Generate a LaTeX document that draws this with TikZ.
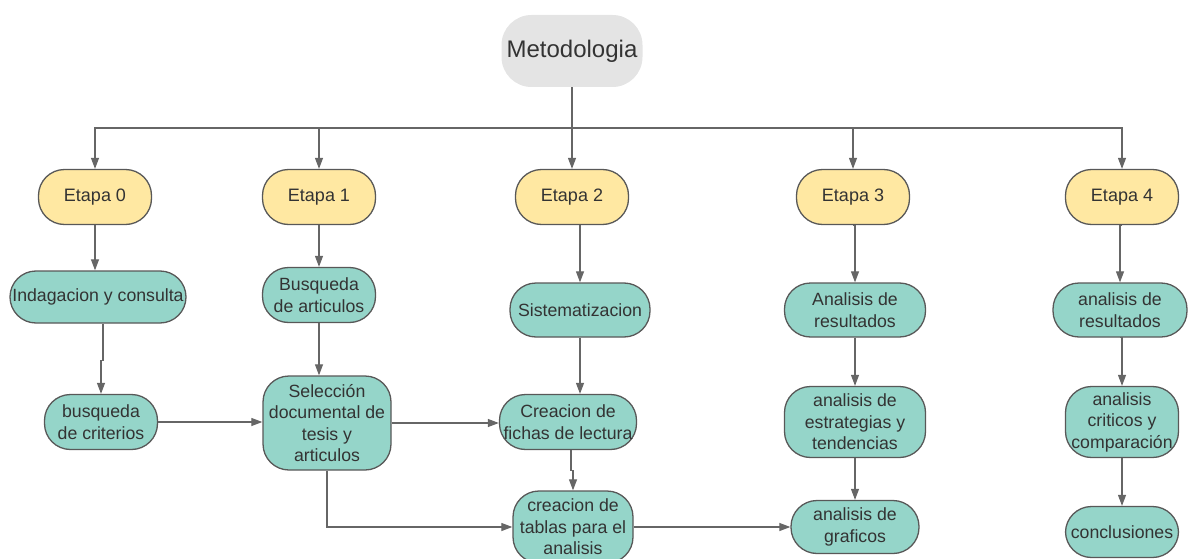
\documentclass[tikz,border=0pt]{standalone}
\usepackage{fontspec}
\setmainfont{Liberation Sans}
\usetikzlibrary{arrows.meta}

\definecolor{stagefill}{HTML}{FFE8A2}
\definecolor{taskfill}{HTML}{95D5C9}
\definecolor{rootfill}{HTML}{E4E4E4}
\definecolor{edgegray}{HTML}{585858}
\definecolor{linkgray}{HTML}{666666}
\definecolor{textgray}{HTML}{333333}

\begin{document}
\begin{tikzpicture}[x=1pt, y=-1pt,
    box/.style={rectangle, rounded corners=26pt, align=center, inner sep=1pt,
        text=textgray, font=\fontsize{17.7}{21.5}\selectfont},
    root/.style={box, fill=rootfill, rounded corners=30pt,
        minimum width=141pt, minimum height=72pt,
        font=\fontsize{24}{28}\selectfont},
    stage/.style={box, fill=stagefill, draw=edgegray, line width=1.3pt,
        minimum width=113pt, minimum height=55pt,
        font=\fontsize{18}{22}\selectfont},
    task/.style={box, fill=taskfill, draw=edgegray, line width=1.3pt},
    link/.style={draw=linkgray, line width=1.1pt,
        -{Triangle[width=8pt, length=11pt]}}]
    \useasboundingbox (0, 0) rectangle (1188, 559);

    \node [root] (met) at (572, 51) {Metodologia};
    \coordinate (bus) at (572, 128);

    % etapas
    \node [stage] (e0) at (95, 197)   {Etapa 0};
    \node [stage] (e1) at (319, 197)  {Etapa 1};
    \node [stage] (e2) at (572, 197)  {Etapa 2};
    \node [stage] (e3) at (853, 197)  {Etapa 3};
    \node [stage] (e4) at (1122, 197) {Etapa 4};

    % etapa 0 y 1
    \node [task, minimum width=176pt, minimum height=52pt] (indag) at (98, 297) {Indagacion y consulta};
    \node [task, minimum width=113pt, minimum height=55pt] (crit) at (101, 422) {busqueda\\de criterios};
    \node [task, minimum width=113pt, minimum height=55pt] (busart) at (319, 295) {Busqueda\\de articulos};
    \node [task, minimum width=128pt, minimum height=94pt] (sel) at (327, 423) {Selección\\documental de\\tesis y\\articulos};

    % etapa 2
    \node [task, minimum width=140pt, minimum height=54pt] (sist) at (580, 310) {Sistematizacion};
    \node [task, minimum width=137pt, minimum height=55pt] (fichas) at (568, 422) {Creacion de\\fichas de lectura};
    \node [task, minimum width=120pt, minimum height=72pt] (tablas) at (573, 527) {creacion de\\tablas para el\\analisis};

    % etapa 3
    \node [task, minimum width=141pt, minimum height=54pt] (res3) at (855, 310) {Analisis de\\resultados};
    \node [task, minimum width=141pt, minimum height=71pt] (estr) at (855, 422) {analisis de\\estrategias y\\tendencias};
    \node [task, minimum width=128pt, minimum height=53pt] (graf) at (855, 527) {analisis de\\graficos};

    % etapa 4
    \node [task, minimum width=134pt, minimum height=54pt] (res4) at (1120, 310) {analisis de\\resultados};
    \node [task, minimum width=113pt, minimum height=71pt] (comp) at (1122, 422) {analisis\\criticos y\\comparación};
    \node [task, minimum width=113pt, minimum height=51pt] (concl) at (1122, 532) {conclusiones};

    \draw [draw=linkgray, line width=1.1pt] (met) -- (bus);
    \foreach \e in {e0, e1, e2, e3, e4} {
        \draw [link] (bus) -| (\e.north);
        }

    \draw [link] (e0.south) -- (e0.south |- indag.north);
    \draw [link] (indag.south -| 103, 0) -- ++(0, 37) -| (crit.north);
    \draw [link] (e1.south) -- (busart.north);
    \draw [link] (busart.south) -- (busart.south |- sel.north);
    \draw [link] (crit.east) -- (crit.east -| sel.west);
    \draw [link] (sel.east) -- (sel.east -| fichas.west);
    \draw [link] (sel.south) |- (tablas.west);

    \draw [link] (sist.north |- e2.south) -- (sist.north);
    \draw [link] (sist.south) -- (sist.south |- fichas.north);
    \draw [link] (fichas.south -| 571, 0) -- ++(0, 20) -| (tablas.north);
    \draw [link] (tablas.east) -- (tablas.east -| graf.west);

    \foreach \a/\b in {e3/res3, res3/estr, estr/graf, e4/res4, res4/comp, comp/concl} {
        \draw [link] (\a.south) -- (\a.south -| \b.north) -- (\b.north);
        }
\end{tikzpicture}
\end{document}
